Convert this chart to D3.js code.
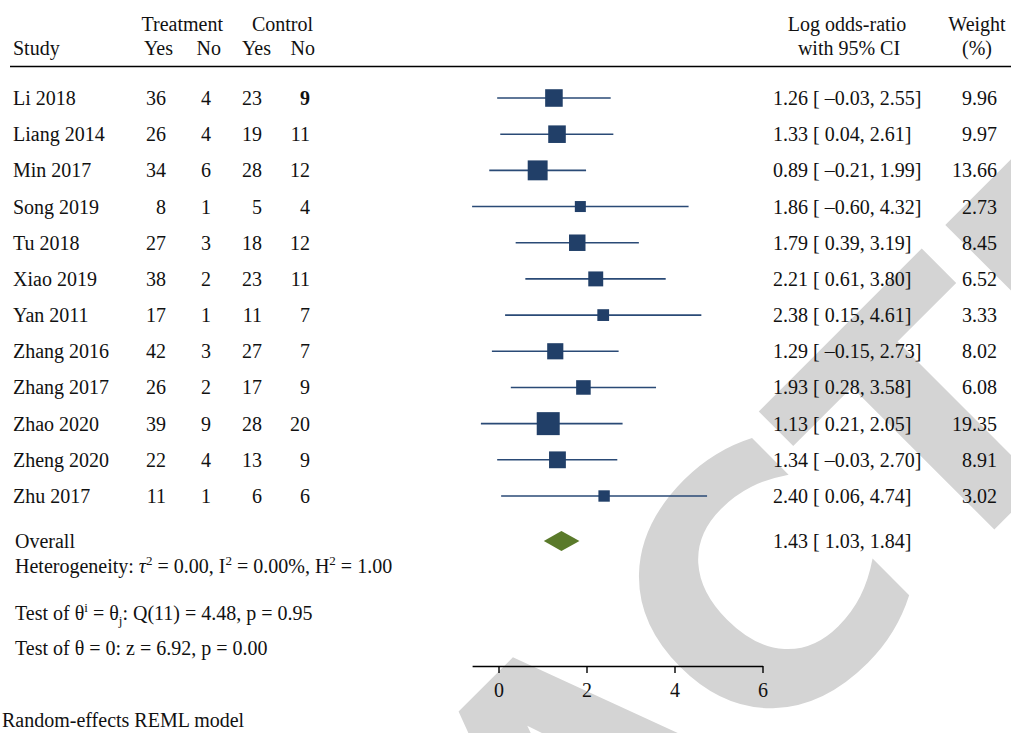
<!DOCTYPE html>
<html lang="en">
<head>
<meta charset="UTF-8">
<title>Forest plot</title>
<script src="https://d3js.org/d3.v7.min.js"></script>
<style>
  body { margin: 0; background: #fff; }
  svg { display: block; }
  text { font-family: "Liberation Serif", "Times New Roman", serif; font-size: 20px; fill: #111; }
</style>
</head>
<body>
<svg width="1011" height="733"></svg>
<script>
// study data
const studies = ["Li 2018", "Liang 2014", "Min 2017", "Song 2019", "Tu 2018", "Xiao 2019",
                 "Yan 2011", "Zhang 2016", "Zhang 2017", "Zhao 2020", "Zheng 2020", "Zhu 2017"];
const trtYes = [36, 26, 34, 8, 27, 38, 17, 42, 26, 39, 22, 11];
const trtNo  = [4, 4, 6, 1, 3, 2, 1, 3, 2, 9, 4, 1];
const ctlYes = [23, 19, 28, 5, 18, 23, 11, 27, 17, 28, 13, 6];
const ctlNo  = [9, 11, 12, 4, 12, 11, 7, 7, 9, 20, 9, 6];
const lor    = [1.26, 1.33, 0.89, 1.86, 1.79, 2.21, 2.38, 1.29, 1.93, 1.13, 1.34, 2.40];
const ciLow  = [-0.03, 0.04, -0.21, -0.60, 0.39, 0.61, 0.15, -0.15, 0.28, 0.21, -0.03, 0.06];
const ciHigh = [2.55, 2.61, 1.99, 4.32, 3.19, 3.80, 4.61, 2.73, 3.58, 2.05, 2.70, 4.74];
// whiskers as drawn in the figure (Zhao 2020's drawn line is wider than its printed CI)
const lineLow  = [-0.03, 0.04, -0.21, -0.60, 0.39, 0.61, 0.15, -0.15, 0.28, -0.40, -0.03, 0.06];
const lineHigh = [2.55, 2.61, 1.99, 4.32, 3.19, 3.80, 4.61, 2.73, 3.58, 2.82, 2.70, 4.74];
const weight = [9.96, 9.97, 13.66, 2.73, 8.45, 6.52, 3.33, 8.02, 6.08, 19.35, 8.91, 3.02];
const overall = [1.43, 1.03, 1.84];   // estimate, low, high
const xTicks = [0, 2, 4, 6];

const svg = d3.select("svg");

// grey watermark behind everything
const wmSize = 343;
const wm = svg.append("text")
    .text("RETRACTED")
    .style("font-family", "'DejaVu Sans', sans-serif")
    .style("font-weight", "bold")
    .style("font-size", wmSize + "px")
    .style("fill", "#d4d4d4");
const ext = wm.node().getExtentOfChar(5);   // the "C"
const cx = ext.x + ext.width / 2, cy = -0.729 * wmSize / 2;
wm.attr("transform", `translate(757,590) rotate(-45) translate(${-cx},${-cy})`);

const x = d3.scaleLinear().domain([-0.6, 6]).range([472.1, 762.5]);
const y = d3.scaleLinear().domain([0, studies.length - 1]).range([98, 496]);
const side = d3.scaleSqrt().domain([0, 20]).range([3.8, 23.3]);
const fmt = v => d3.format(".2f")(v).replace("\u2212", "\u2013");

// header
const header = [
    ["Treatment", 223, 31], ["Control", 313, 31],
    ["Yes", 173, 55], ["No", 221, 55], ["Yes", 271, 55], ["No", 315, 55]
];
header.forEach(h => {
    svg.append("text").attr("x", h[1]).attr("y", h[2]).attr("text-anchor", "end").text(h[0]);
});
svg.append("text").attr("x", 13).attr("y", 55).text("Study");
svg.append("text").attr("x", 847).attr("y", 31).attr("text-anchor", "middle").text("Log odds-ratio");
svg.append("text").attr("x", 849).attr("y", 55).attr("text-anchor", "middle").text("with 95% CI");
svg.append("text").attr("x", 977).attr("y", 31).attr("text-anchor", "middle").text("Weight");
svg.append("text").attr("x", 977).attr("y", 55).attr("text-anchor", "middle").text("(%)");

svg.append("line")
    .attr("x1", 10).attr("x2", 1011).attr("y1", 66.5).attr("y2", 66.5)
    .attr("stroke", "#000").attr("stroke-width", 1.6);

// table columns
const rows = svg.selectAll("g.row").data(studies).join("g").attr("class", "row");
rows.append("text").attr("x", 13).attr("y", (d, i) => y(i) + 7).text(d => d);
const cols = [[trtYes, 166], [trtNo, 211], [ctlYes, 262], [ctlNo, 310]];
cols.forEach(([vals, cx], c) => {
    rows.append("text")
        .attr("x", cx).attr("y", (d, i) => y(i) + 7)
        .attr("text-anchor", "end")
        .style("font-weight", (d, i) => (i === 0 && c === 3) ? "bold" : null)
        .text((d, i) => vals[i]);
});
rows.append("text").attr("x", 773).attr("y", (d, i) => y(i) + 7)
    .text((d, i) => `${fmt(lor[i])} [ ${fmt(ciLow[i])}, ${fmt(ciHigh[i])}]`);
rows.append("text").attr("x", 997).attr("y", (d, i) => y(i) + 7)
    .attr("text-anchor", "end")
    .text((d, i) => fmt(weight[i]));

// CI lines and squares
rows.append("line")
    .attr("x1", (d, i) => x(lineLow[i])).attr("x2", (d, i) => x(lineHigh[i]))
    .attr("y1", (d, i) => y(i)).attr("y2", (d, i) => y(i))
    .attr("stroke", "#2a4a76").attr("stroke-width", 1.6);
rows.append("rect")
    .attr("x", (d, i) => x(lor[i]) - side(weight[i]) / 2)
    .attr("y", (d, i) => y(i) - side(weight[i]) / 2)
    .attr("width", (d, i) => side(weight[i]))
    .attr("height", (d, i) => side(weight[i]))
    .attr("fill", "#213f68");

// overall
const yo = 541;
svg.append("path")
    .attr("d", `M${x(overall[1])},${yo}L${x(overall[0])},${yo - 10}L${x(overall[2])},${yo}L${x(overall[0])},${yo + 10}Z`)
    .attr("fill", "#5a7a2a");
svg.append("text").attr("x", 773).attr("y", yo + 7)
    .text(`${fmt(overall[0])} [ ${fmt(overall[1])}, ${fmt(overall[2])}]`);

function rich(xp, yp, parts) {
    const t = svg.append("text").attr("x", xp).attr("y", yp);
    parts.forEach(([s, kind]) => {
        const sp = t.append("tspan").text(s);
        if (kind === "sup") sp.attr("dy", -8).style("font-size", "13px");
        if (kind === "sub") sp.attr("dy", 5).style("font-size", "13px");
        if (kind === "it") sp.style("font-style", "italic");
        if (kind === "back") sp.attr("dy", 8);
        if (kind === "up") sp.attr("dy", -5);
    });
}
svg.append("text").attr("x", 15).attr("y", 548).text("Overall");
rich(15, 573, [["Heterogeneity: "], ["\u03c4", "it"], ["2", "sup"], [" = 0.00, I", "back"],
               ["2", "sup"], [" = 0.00%, H", "back"], ["2", "sup"], [" = 1.00", "back"]]);
rich(15, 620, [["Test of \u03b8"], ["i", "sup"], [" = \u03b8", "back"], ["j", "sub"],
               [": Q(11) = 4.48, p = 0.95", "up"]]);
rich(15, 655, [["Test of \u03b8 = 0: z = 6.92, p = 0.00"]]);
svg.append("text").attr("x", 2).attr("y", 727).text("Random-effects REML model");

// axis
const axis = svg.append("g")
    .attr("transform", "translate(0,666)")
    .call(d3.axisBottom(x).tickValues(xTicks).tickFormat(d3.format("d"))
        .tickSize(7).tickSizeOuter(0).tickPadding(10));
axis.select(".domain").attr("stroke", "#000").attr("stroke-width", 1.6);
axis.selectAll(".tick line").attr("stroke", "#000").attr("stroke-width", 1.4);
</script>
</body>
</html>
